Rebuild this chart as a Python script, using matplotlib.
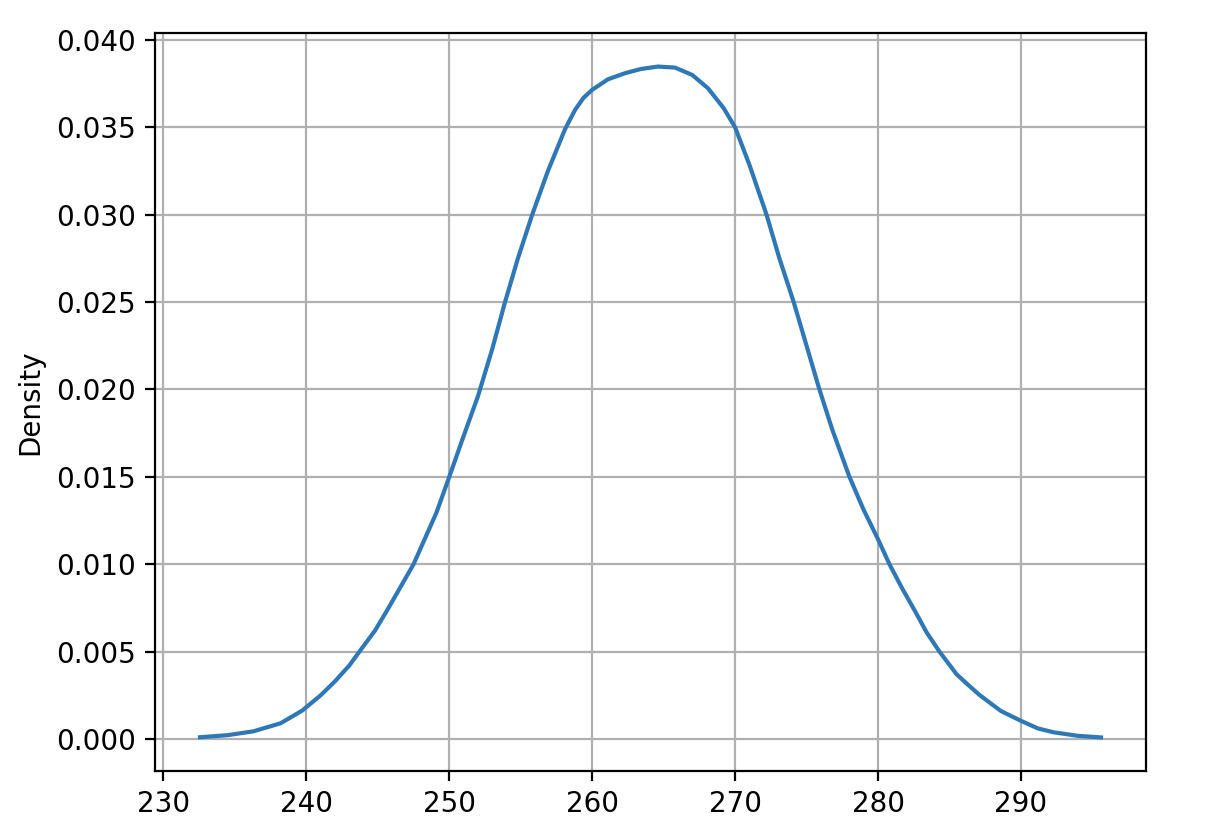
import matplotlib
matplotlib.use("Agg")
import matplotlib.pyplot as plt

# Values
x_values = [232.56, 234.5, 236.3, 238.2, 239.7, 241.0, 242.0, 243.0, 243.8, 244.8,
            245.7, 247.5, 249.1, 250.0, 250.9, 252.0, 253.0, 253.9, 254.8, 255.8,
            256.9, 258.1, 258.8, 259.4, 260.0, 261.1, 262.3, 263.4, 264.6, 265.8,
            267.0, 268.1, 269.2, 270.0, 271.0, 272.2, 273.1, 274.1, 275.0, 275.9,
            276.8, 278.0, 279.0, 280.0, 280.8, 281.7, 282.6, 283.4, 284.3, 285.5,
            286.3, 287.1, 288.6, 290.0, 291.2, 292.3, 294.0, 295.6]
density = [0.0001, 0.00022, 0.00044, 0.0009, 0.00162, 0.0025, 0.0033, 0.0042, 0.0051, 0.0062,
           0.00743, 0.0100, 0.01295, 0.0150, 0.0171, 0.0196, 0.0223, 0.0250, 0.0275, 0.0300,
           0.0325, 0.0349, 0.0360, 0.0367, 0.03715, 0.03775, 0.0381, 0.03834, 0.03848, 0.03842,
           0.0380, 0.03724, 0.0361, 0.0350, 0.03286, 0.0300, 0.0275, 0.0250, 0.0225, 0.0200,
           0.0177, 0.0150, 0.0131, 0.01143, 0.0100, 0.0086, 0.0073, 0.0061, 0.0050, 0.0037,
           0.0031, 0.00252, 0.0016, 0.00104, 0.0006, 0.00038, 0.00018, 0.00009]

x_ticks = [230, 240, 250, 260, 270, 280, 290]
y_ticks = [0.000, 0.005, 0.010, 0.015, 0.020, 0.025, 0.030, 0.035, 0.040]

fig = plt.figure(figsize=(6.04, 4.19), dpi=200)
ax = fig.add_axes([0.1283, 0.0800, 0.8204, 0.8806])
ax.plot(x_values, density, color="#2f78b8", linewidth=1.5, solid_joinstyle="round")
ax.set_xticks(x_ticks)
ax.set_yticks(y_ticks)
ax.set_yticklabels([f"{v:.3f}" for v in y_ticks])
ax.set_ylabel("Density")
ax.grid(True)
fig.savefig("out.png", dpi=200)
